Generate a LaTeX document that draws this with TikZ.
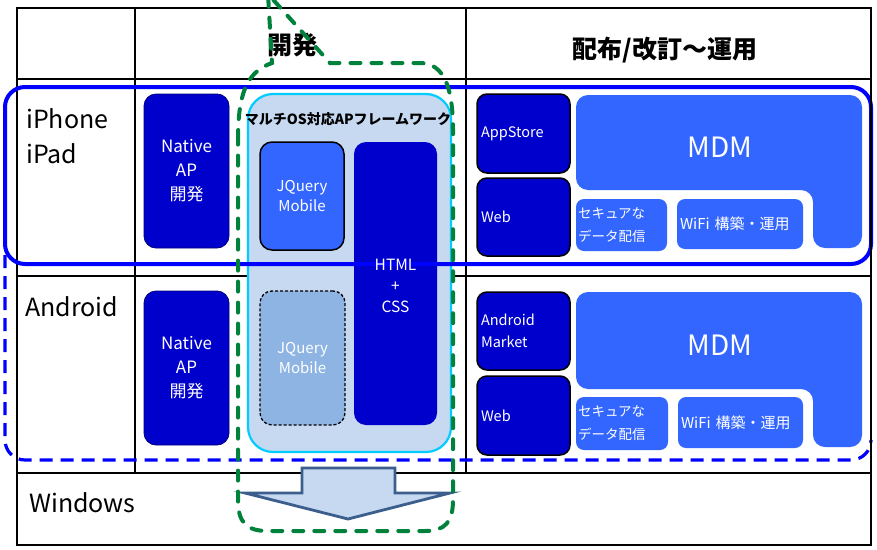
\documentclass[tikz,border=0pt]{standalone}
\usepackage{fontspec}
\setmainfont{Noto Sans CJK JP}
\definecolor{navy}{RGB}{0,0,204}
\definecolor{midb}{RGB}{51,102,255}
\definecolor{fwfill}{RGB}{198,217,241}
\definecolor{fwline}{RGB}{0,204,255}
\definecolor{jqlight}{RGB}{141,180,226}
\definecolor{outblue}{RGB}{0,0,255}
\definecolor{grn}{RGB}{0,130,60}
\definecolor{arrline}{RGB}{59,94,140}
\definecolor{natline}{RGB}{0,0,120}
\begin{document}
\begin{tikzpicture}[x=1pt,y=-1pt,
  tline/.style={line width=2.8pt,black},
  hdr/.style={font=\bfseries\fontsize{25}{25}\selectfont, inner sep=0pt},
  oslabel/.style={font=\fontsize{25}{35}\selectfont, inner sep=0pt, align=left, anchor=west},
  nativebox/.style={fill=navy, draw=natline, line width=0.8pt, rounded corners=12pt, text=white, align=center, font=\fontsize{17}{24}\selectfont, inner sep=0pt},
  fwbox/.style={fill=fwfill, draw=fwline, line width=2.2pt, rounded corners=25pt, inner sep=0pt},
  jqbox/.style={fill=midb, draw=black, line width=1.5pt, rounded corners=12pt, text=white, align=center, font=\fontsize{15}{20}\selectfont, inner sep=0pt},
  htmlbox/.style={fill=navy, rounded corners=12pt, inner sep=0pt},
  storebox/.style={fill=navy, draw=black, line width=1.5pt, rounded corners=10pt, text=white, align=left, inner xsep=4pt, inner ysep=0pt, font=\fontsize{14.5}{22}\selectfont},
  subbox/.style={fill=midb, rounded corners=8pt, text=white, align=left, inner xsep=2pt, inner ysep=0pt, font=\fontsize{13.5}{23}\selectfont},
  mdmtext/.style={text=white, font=\fontsize{28}{28}\selectfont, inner sep=0pt},
  mdmshape/.style={fill=midb, rounded corners=12pt},
  bluesolid/.style={draw=outblue, line width=4pt, rounded corners=20pt},
  bluedash/.style={draw=outblue, line width=3.2pt, dash pattern=on 13pt off 8pt, rounded corners=20pt},
  grndash/.style={draw=grn, line width=4pt, dash pattern=on 10pt off 11pt, line cap=round},
  bigarrow/.style={draw=arrline, fill=fwfill, line width=2.8pt, line join=miter}
]
\useasboundingbox (0,0) rectangle (877,549);
\fill[white] (0,0) rectangle (877,549);

% table
\draw[tline] (17,8) rectangle (871,545);
\draw[tline] (17,79) -- (871,79);
\draw[tline] (17,276) -- (871,276);
\draw[tline] (17,473) -- (871,473);
\draw[tline] (135,8) -- (135,473);
\draw[tline] (466,8) -- (466,473);

% headers
\node[hdr] (hdev) at (292,45) {開発};
\node[hdr] (hops) at (665,50) {配布/改訂～運用};

% OS labels
\node[oslabel] (ios) at (26,136) {iPhone\\iPad};
\node[oslabel] (andr) at (25,307) {Android};
\node[oslabel] (win) at (29,503) {Windows};

% native boxes
\node[nativebox, minimum width=85pt, minimum height=154pt] (nat1) at (186.5,171) {Native\\AP\\開発};
\node[nativebox, minimum width=85pt, minimum height=154pt] (nat2) at (186.5,368) {Native\\AP\\開発};

% framework
\node[fwbox, minimum width=203pt, minimum height=358pt] (fw) at (349.5,273) {};
\node[font=\bfseries\fontsize{14}{14}\selectfont, inner sep=0pt] (fwtitle) at (348,119) {マルチOS対応APフレームワーク};
\node[jqbox, minimum width=84pt, minimum height=108pt] (jq1) at (302,196) {JQuery\\Mobile};
\node[jqbox, fill=jqlight, line width=1.3pt, dash pattern=on 3pt off 2pt, minimum width=85pt, minimum height=134pt] (jq2) at (302.5,358) {JQuery\\Mobile};
\node[htmlbox, minimum width=83pt, minimum height=283pt] (html) at (395.5,283.5) {};

% right side row 1
\node[storebox, minimum width=93pt, minimum height=79pt, text width=85pt] (apps) at (523.5,133.5) {AppStore};
\node[storebox, minimum width=93pt, minimum height=78pt, text width=85pt] (web1) at (523.5,217) {Web};
\fill[mdmshape] (576,140) -- (576,95) -- (862,95) -- (862,248) -- (813,248) -- (813,190) -- (576,190) -- cycle;
\node[mdmtext] (mdm1) at (720,147) {MDM};
\node[subbox, minimum width=91pt, minimum height=52pt, text width=87pt] (sec1) at (621.5,225) {セキュアな\\データ配信};
\node[subbox, minimum width=126pt, minimum height=50pt, text width=120pt, inner xsep=3pt, font=\fontsize{15}{18}\selectfont] (wifi1) at (740,224) {WiFi 構築・運用};

% right side row 2
\node[storebox, minimum width=93pt, minimum height=78pt, text width=85pt] (amkt) at (523.5,331) {Android\\Market};
\node[storebox, minimum width=93pt, minimum height=79pt, text width=85pt] (web2) at (523.5,415.5) {Web};
\fill[mdmshape] (576,340) -- (576,292) -- (862,292) -- (862,447) -- (813,447) -- (813,389) -- (576,389) -- cycle;
\node[mdmtext] (mdm2) at (720,345) {MDM};
\node[subbox, minimum width=92pt, minimum height=53pt, text width=88pt] (sec2) at (622,423.5) {セキュアな\\データ配信};
\node[subbox, minimum width=125pt, minimum height=51pt, text width=119pt, inner xsep=3pt, font=\fontsize{15}{18}\selectfont] (wifi2) at (740.5,422.5) {WiFi 構築・運用};

% blue outlines
\draw[bluedash] (5,255) -- (5,460) -- (871,460) -- (871,440);
\draw[bluesolid] (5,87) rectangle (871,264);
\draw[tline] (871,8) -- (871,545);

% HTML text on top
\node[text=white, align=center, font=\fontsize{15.5}{21}\selectfont, inner sep=0pt] (htmltxt) at (395.5,286) {HTML\\+\\CSS};

% arrow
\draw[bigarrow] (302,468) -- (395,468) -- (395,493) -- (450,493) -- (348,519) -- (245,493) -- (302,493) -- cycle;

% green callout
\draw[grndash] (238,140) .. controls (238,95) and (246,72) .. (272,63) -- (268,-6) -- (330,63) -- (420,63) .. controls (445,63) and (453,90) .. (453,130) -- (453,500) .. controls (453,522) and (445,531) .. (425,531) -- (268,531) .. controls (246,531) and (238,522) .. (238,500) -- cycle;
\end{tikzpicture}
\end{document}
